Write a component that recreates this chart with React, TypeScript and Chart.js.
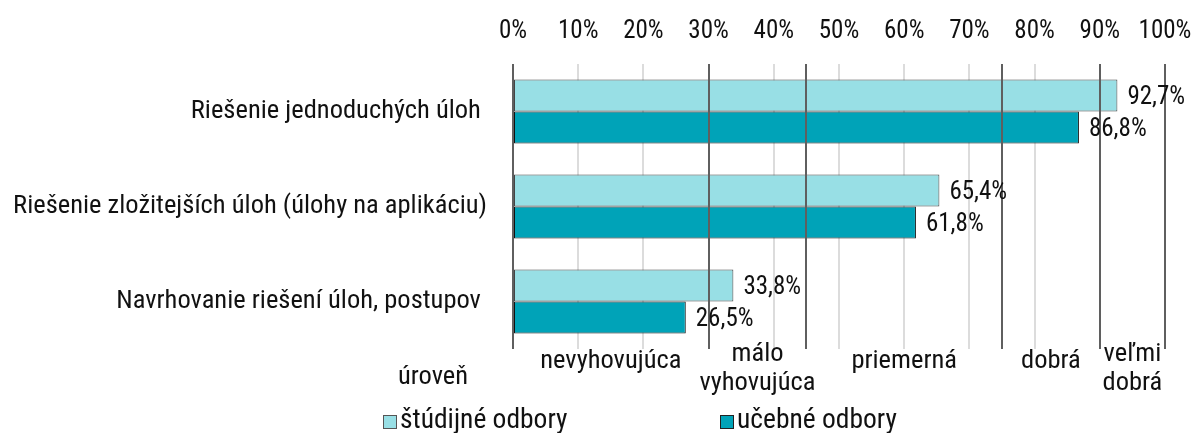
import React, { useEffect, useRef } from "react";
import { Chart, registerables } from "chart.js";

Chart.register(...registerables);

const categories = [
  "Riešenie jednoduchých úloh ",
  "Riešenie zložitejších úloh (úlohy na aplikáciu)",
  "Navrhovanie riešení úloh, postupov ",
];
const seriesNames = ["štúdijné odbory", "učebné odbory"];
const studijne = [92.7, 65.4, 33.8];
const ucebne = [86.8, 61.8, 26.5];
const tickValues = [0, 10, 20, 30, 40, 50, 60, 70, 80, 90, 100];
const bandBounds = [0, 30, 45, 75, 90, 100];
const bandLabels = [["nevyhovujúca"], ["málo", "vyhovujúca"], ["priemerná"], ["dobrá"], ["veľmi", "dobrá"]];
const levelLabel = "úroveň";

const FONT = "'Roboto Condensed', 'Liberation Sans Narrow', 'DejaVu Sans Condensed', Roboto, sans-serif";
const FS = 25;
const FS_CAT = 26.5;
const FS_LEG = 27.5;
const LIGHT = "#98DFE5";
const DARK = "#00A3B8";
const GRID_DARK = "#5f5f5f";
const GRID_LIGHT = "#dcdcdc";
const TEXT = "#111111";

const fmt = (v: number) => v.toFixed(1).replace(".", ",") + "%";

const overlayPlugin = {
  id: "overlay",
  afterDatasetsDraw(chart: any) {
    const { ctx, chartArea } = chart;
    const xs = chart.scales.x;
    ctx.save();
    ctx.strokeStyle = GRID_DARK;
    ctx.lineWidth = 2;
    bandBounds.forEach((b) => {
      const x = Math.round(xs.getPixelForValue(b));
      ctx.beginPath();
      ctx.moveTo(x, chartArea.top);
      ctx.lineTo(x, chartArea.bottom);
      ctx.stroke();
    });
    ctx.font = `${FS}px ${FONT}`;
    ctx.fillStyle = TEXT;
    ctx.textAlign = "left";
    ctx.textBaseline = "middle";
    chart.data.datasets.forEach((ds: any, di: number) => {
      const meta = chart.getDatasetMeta(di);
      meta.data.forEach((el: any, i: number) => {
        ctx.fillText(fmt(ds.data[i]), el.x + 10, el.y + 2);
      });
    });
    ctx.restore();
  },
  afterDraw(chart: any) {
    const { ctx, chartArea } = chart;
    const xs = chart.scales.x;
    ctx.save();
    ctx.font = `${FS_CAT}px ${FONT}`;
    ctx.fillStyle = TEXT;
    ctx.textAlign = "center";
    ctx.textBaseline = "middle";
    bandLabels.forEach((lines, i) => {
      const cx = (xs.getPixelForValue(bandBounds[i]) + xs.getPixelForValue(bandBounds[i + 1])) / 2;
      lines.forEach((t, j) => {
        const y = lines.length === 1 ? chartArea.bottom + 12 : chartArea.bottom + 5 + j * 29;
        ctx.fillText(t, cx, y);
      });
    });
    ctx.fillText(levelLabel, chartArea.left - 80, chartArea.bottom + 28);
    ctx.font = `${FS_LEG}px ${FONT}`;
    const legendX = [383, 720];
    const colors = [LIGHT, DARK];
    const borders = ["#555555", "#222222"];
    const ly = 421;
    seriesNames.forEach((name, i) => {
      ctx.fillStyle = colors[i];
      ctx.fillRect(legendX[i], ly - 6, 14, 14);
      ctx.strokeStyle = borders[i];
      ctx.lineWidth = 1;
      ctx.strokeRect(legendX[i] + 0.5, ly - 5.5, 13, 13);
      ctx.fillStyle = TEXT;
      ctx.textAlign = "left";
      ctx.fillText(name, legendX[i] + 17, ly);
    });
    ctx.restore();
  },
};

export default function App() {
  const ref = useRef<HTMLCanvasElement>(null);
  useEffect(() => {
    document.body.style.margin = "0";
    const chart = new Chart(ref.current!, {
      type: "bar",
      data: {
        labels: categories,
        datasets: [
          {
            label: seriesNames[0],
            data: studijne,
            backgroundColor: LIGHT,
            borderColor: "#444444",
            borderWidth: 1,
            borderSkipped: false,
          },
          {
            label: seriesNames[1],
            data: ucebne,
            backgroundColor: DARK,
            borderColor: "#111111",
            borderWidth: 1,
            borderSkipped: false,
          },
        ],
      },
      options: {
        indexAxis: "y",
        responsive: false,
        animation: false,
        events: [],
        layout: { padding: { top: 19, right: 30, bottom: 84, left: 0 } },
        datasets: { bar: { barPercentage: 1, categoryPercentage: 0.674 } },
        plugins: { legend: { display: false }, tooltip: { enabled: false } },
        scales: {
          x: {
            position: "top",
            min: 0,
            max: 100,
            afterBuildTicks: (s: any) => {
              s.ticks = tickValues.map((v) => ({ value: v }));
            },
            afterFit: (s: any) => {
              s.height = 45;
              s.paddingLeft = 0;
              s.paddingRight = 0;
            },
            ticks: {
              padding: 17,
              color: TEXT,
              font: { family: FONT, size: FS },
              callback: (v: any) => v + "%",
              maxRotation: 0,
              autoSkip: false,
            },
            grid: {
              drawTicks: false,
              lineWidth: 2,
              color: (c: any) => (c.tick && bandBounds.includes(c.tick.value) ? "rgba(0,0,0,0)" : GRID_LIGHT),
            },
            border: { display: false },
          },
          y: {
            afterFit: (s: any) => {
              s.width = 513;
            },
            ticks: {
              padding: 18,
              color: TEXT,
              font: { family: FONT, size: FS_CAT },
            },
            grid: { display: false },
            border: { display: false },
          },
        },
      },
      plugins: [overlayPlugin],
    });
    return () => chart.destroy();
  }, []);
  return (
    <div style={{ width: 1195, height: 433, background: "#fff" }}>
      <canvas ref={ref} width={1195} height={433} />
    </div>
  );
}
